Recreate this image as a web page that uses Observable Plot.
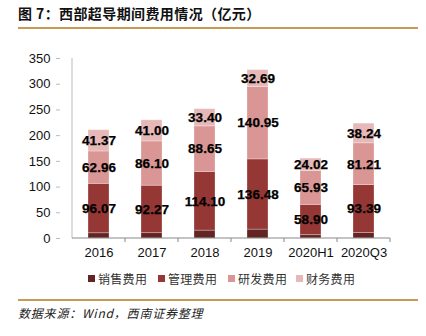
<!DOCTYPE html>
<html>
<head>
<meta charset="utf-8">
<script src="https://cdn.jsdelivr.net/npm/d3@7"></script>
<script src="https://cdn.jsdelivr.net/npm/@observablehq/plot@0.6"></script>
<style>
  html, body { margin: 0; padding: 0; background: #fff; }
  body { width: 426px; height: 336px; position: relative; overflow: hidden; font-family: "Liberation Sans", Arial, sans-serif; }
  #title { position: absolute; left: 18px; top: 3px; font-family: "Noto Sans CJK SC", sans-serif; font-weight: bold; font-size: 14px; color: #111; letter-spacing: 0.4px; white-space: nowrap; }
  .gold { position: absolute; left: 18px; width: 400px; height: 2px; background: #C99A52; }
  #chart { position: absolute; left: 0; top: 30px; }
  #legend { position: absolute; left: 0; top: 270px; width: 426px; }
  #legend .item { position: absolute; display: flex; align-items: center; font-family: "Noto Sans CJK SC", sans-serif; font-size: 12px; color: #333; white-space: nowrap; letter-spacing: 0.3px; }
  #legend .sw { width: 7px; height: 7px; margin-right: 3px; }
  #source { position: absolute; left: 18px; top: 304px; font-family: "Noto Sans CJK SC", sans-serif; font-style: italic; font-size: 12px; color: #222; white-space: nowrap; letter-spacing: 0.8px; }
</style>
</head>
<body>
<div id="title">图 7：西部超导期间费用情况（亿元）</div>
<div class="gold" style="top:27px"></div>
<div id="chart"></div>
<div id="legend"></div>
<div class="gold" style="top:299px"></div>
<div id="source">数据来源：Wind，西南证券整理</div>
<script>
const categories = ["2016", "2017", "2018", "2019", "2020H1", "2020Q3"];
const seriesNames = ["销售费用", "管理费用", "研发费用", "财务费用"];
const sales   = [10.2, 10.4, 15.3, 17.3, 6.5, 10.5];
const admin   = [96.07, 92.27, 114.10, 136.48, 58.90, 93.39];
const rd      = [62.96, 86.10, 88.65, 140.95, 65.93, 81.21];
const finance = [41.37, 41.00, 33.40, 32.69, 24.02, 38.24];
const seriesColors = ["#632523", "#953735", "#D99694", "#E6B9B8"];
const labeledSeries = ["管理费用", "研发费用", "财务费用"];
const yTicks = [0, 50, 100, 150, 200, 250, 300, 350];

const seriesValues = [sales, admin, rd, finance];
const data = [];
categories.forEach((c, i) => {
  seriesNames.forEach((s, j) => {
    data.push({category: c, series: s, value: seriesValues[j][i]});
  });
});

const chart = Plot.plot({
  width: 426,
  height: 236,
  marginLeft: 56,
  marginRight: 19,
  marginTop: 28,
  marginBottom: 28,
  style: {fontFamily: "Liberation Sans, Arial, sans-serif", fontSize: "13px", color: "#111", background: "white"},
  x: {domain: categories, padding: 0.6, label: null},
  y: {domain: [0, 350], ticks: yTicks, label: null},
  color: {domain: seriesNames, range: seriesColors},
  marks: [
    Plot.barY(data, Plot.stackY({x: "category", y: "value", z: "series", fill: "series", stroke: "white", strokeOpacity: 0.35, strokeWidth: 0.8})),
    Plot.text(data, Plot.stackY({
      x: "category", y: "value", z: "series",
      text: d => labeledSeries.includes(d.series) ? d.value.toFixed(2) : "",
      fill: "#000", fontWeight: "bold", fontSize: 13.5, stroke: "#000", strokeWidth: 0.25
    })),
    Plot.axisY({ticks: yTicks, tickSize: -4, tickPadding: 10, stroke: "#bbb", fill: "#111", fontSize: 13, tickFormat: d => d}),
    Plot.axisX({tickSize: 0, tickPadding: 9, fontSize: 13, fill: "#111"}),
  ]
});

// axis lines and band-boundary ticks from the library scales
const xs = chart.scale("x");
const ys = chart.scale("y");
const svg = d3.select(chart);
const y0 = ys.apply(0);
const yTop = ys.apply(350);
const step = xs.step;
const x0 = xs.apply(categories[0]) - (step - xs.bandwidth) / 2;
svg.append("line").attr("x1", x0).attr("x2", x0).attr("y1", yTop).attr("y2", y0).attr("stroke", "#bbb");
svg.append("line").attr("x1", x0).attr("x2", x0 + step * categories.length).attr("y1", y0).attr("y2", y0).attr("stroke", "#888");
categories.forEach((c) => {
  const xb = xs.apply(c) + xs.bandwidth + (step - xs.bandwidth) / 2;
  svg.append("line").attr("x1", xb).attr("x2", xb).attr("y1", y0).attr("y2", y0 + 4).attr("stroke", "#888");
});
document.getElementById("chart").appendChild(chart);

// legend
const legend = document.getElementById("legend");
const legendX = [88, 158, 228, 296];
seriesNames.forEach((s, i) => {
  const it = document.createElement("div");
  it.className = "item";
  it.style.left = legendX[i] + "px";
  const sw = document.createElement("span");
  sw.className = "sw";
  sw.style.background = seriesColors[i];
  it.appendChild(sw);
  it.appendChild(document.createTextNode(s));
  legend.appendChild(it);
});
</script>
</body>
</html>
